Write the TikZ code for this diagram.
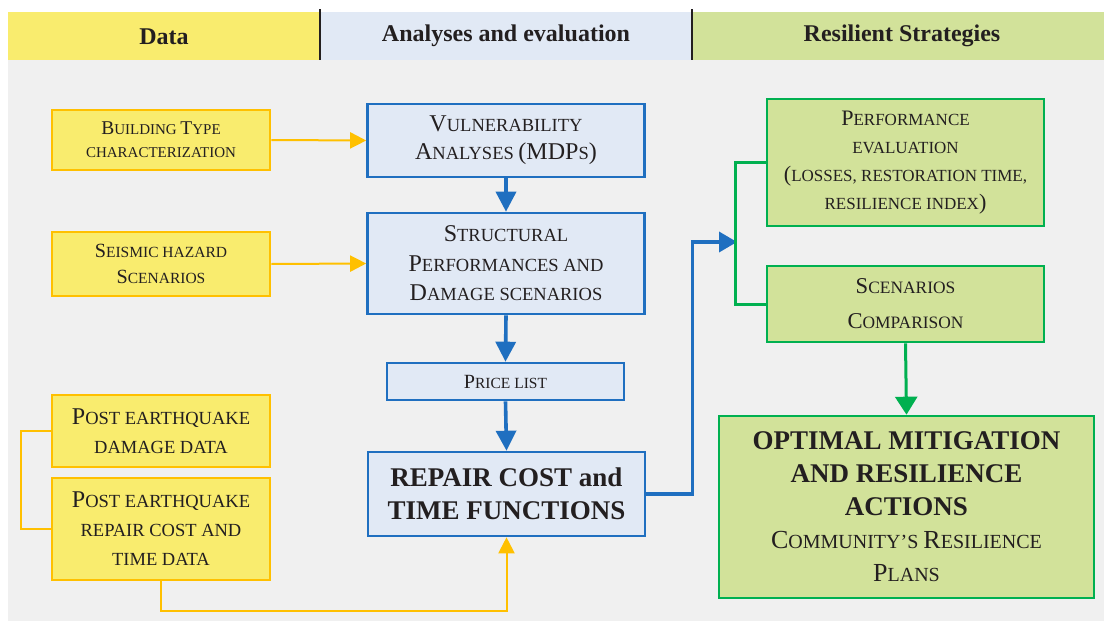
\documentclass[tikz,border=0pt]{standalone}
\usepackage{fontspec}
\setmainfont{Liberation Serif}
\usepackage{graphicx}
\usetikzlibrary{arrows.meta}
\definecolor{datayellow}{HTML}{F9EC6E}
\definecolor{dataedge}{HTML}{FFC000}
\definecolor{anafill}{HTML}{E1E9F5}
\definecolor{anaedge}{HTML}{1F6FC0}
\definecolor{resfill}{HTML}{D2E29A}
\definecolor{resedge}{HTML}{00B050}
\definecolor{bggray}{HTML}{F0F0F0}
\definecolor{ink}{HTML}{231F20}
\def\fs#1#2{\fontsize{#1}{#2}\selectfont}
\def\capl#1{\scalebox{1.3}{#1}}
\tikzset{
  databox/.style={draw=dataedge, fill=datayellow, line width=2.6pt, align=center, minimum width=218pt, inner sep=0pt, text=ink},
  anabox/.style={draw=anaedge, fill=anafill, line width=2.6pt, align=center, minimum width=277pt, inner sep=0pt, text=ink},
  resbox/.style={draw=resedge, fill=resfill, line width=2.6pt, align=center, inner sep=0pt, text=ink},
  headtext/.style={font=\bfseries\fs{24}{26}, text=ink},
  dataline/.style={draw=dataedge, line width=2pt},
  analine/.style={draw=anaedge, line width=3.6pt},
  resline/.style={draw=resedge, line width=3pt},
}

\begin{document}
\begin{tikzpicture}[x=1pt, y=-1pt]
			%%%%% START %%%%%
			\useasboundingbox (0,0) rectangle (1104,621);
			
			% header bands
			\fill[datayellow] (8,12) rectangle (320,60);
			\fill[anafill] (320,12) rectangle (692,60);
			\fill[resfill] (692,12) rectangle (1104,60);
			\fill[bggray] (8,60) rectangle (1104,621);
			\draw[line width=1.5pt, ink] (320,9) -- (320,60);
			\draw[line width=1.5pt, ink] (692,9) -- (692,60);
			\node[headtext] (hdata) at (164,37) {Data};
			\node[headtext] (hana) at (506,36) {Analyses and evaluation};
			\node[headtext] (hres) at (902,36) {Resilient Strategies};
			
			% data
			\node[databox, minimum height=60pt, font=\fs{15}{23}] (bt) at (161,140) {\capl{B}UILDING \capl{T}YPE\\CHARACTERIZATION};
			\node[databox, minimum height=64pt, font=\fs{15.5}{26}] (sh) at (161,264) {\capl{S}EISMIC HAZARD\\\capl{S}CENARIOS};
			\node[databox, minimum height=72pt, font=\fs{18.5}{28.5}] (pd) at (161,431) {\capl{P}OST EARTHQUAKE\\DAMAGE DATA};
			\node[databox, minimum height=102pt, font=\fs{18.5}{29}] (pr) at (161,529) {\capl{P}OST EARTHQUAKE\\REPAIR COST AND\\TIME DATA};
			
			% analyses
			\node[anabox, minimum height=73pt, font=\fs{18.5}{28}] (va) at (506,140.5) {\capl{V}ULNERABILITY\\\capl{A}NALYSES \capl{(MDP}S\capl{)}};
			\node[anabox, minimum height=101pt, font=\fs{18.5}{29.5}] (sp) at (506,263.5) {\capl{S}TRUCTURAL\\\capl{P}ERFORMANCES AND\\\capl{D}AMAGE SCENARIOS};
			\node[anabox, minimum width=237pt, minimum height=37pt, font=\fs{15.5}{18}] (pl) at (505.5,381.5) {\capl{P}RICE LIST};
			\node[anabox, minimum height=84pt, font=\bfseries\fs{27}{33}] (rc) at (506.5,494) {REPAIR COST and\\TIME FUNCTIONS};
			
			% strategies
			\node[resbox, minimum width=277pt, minimum height=127pt, font=\fs{17}{28}] (pe) at (905.5,162.5) {\capl{P}ERFORMANCE\\EVALUATION\\\capl{(}LOSSES, RESTORATION TIME,\\RESILIENCE INDEX\capl{)}};
			\node[resbox, minimum width=277pt, minimum height=76pt, font=\fs{17.4}{35}] (sc) at (905.5,304) {\capl{S}CENARIOS\\\capl{C}OMPARISON};
			\node[resbox, minimum width=375pt, minimum height=182pt, font=\bfseries\fs{27}{33}] (om) at (906.5,507) {OPTIMAL MITIGATION\\AND RESILIENCE\\ACTIONS\\\normalfont\fs{20}{32}\capl{C}OMMUNITY'S \capl{R}ESILIENCE\\\normalfont\fs{20}{32}\capl{P}LANS};
			\coordinate (gjoin) at (737,242);
			
			% connectors
			\draw[dataline, -{Triangle[length=16pt,width=16pt]}] (bt.east) -- (va.west);
			\draw[dataline, -{Triangle[length=16pt,width=16pt]}] (sh.east) -- (sp.west);
			\draw[dataline] (pd.west) -- ++(-30,0) |- (pr.west);
			\draw[dataline, -{Triangle[length=16pt,width=16pt]}] (pr.south) -- ++(0,30) -| (rc.south);
			
			\draw[analine, -{Triangle[length=20pt,width=20pt]}] (va.south) -- (sp.north);
			\draw[analine, -{Triangle[length=20pt,width=20pt]}] (sp.south) -- (pl.north);
			\draw[analine, -{Triangle[length=20pt,width=20pt]}] (pl.south) -- (rc.north);
			\draw[analine, -{Triangle[length=18pt,width=20pt]}] (rc.east) -- ++(46,0) |- (gjoin);
			
			\draw[resline] (pe.west) -- ++(-30,0) |- (sc.west);
			\draw[resline, -{Triangle[length=18pt,width=22pt]}] (sc.south) -- (om.north);
			
			%%%%% END %%%%%
\end{tikzpicture}
\end{document}
